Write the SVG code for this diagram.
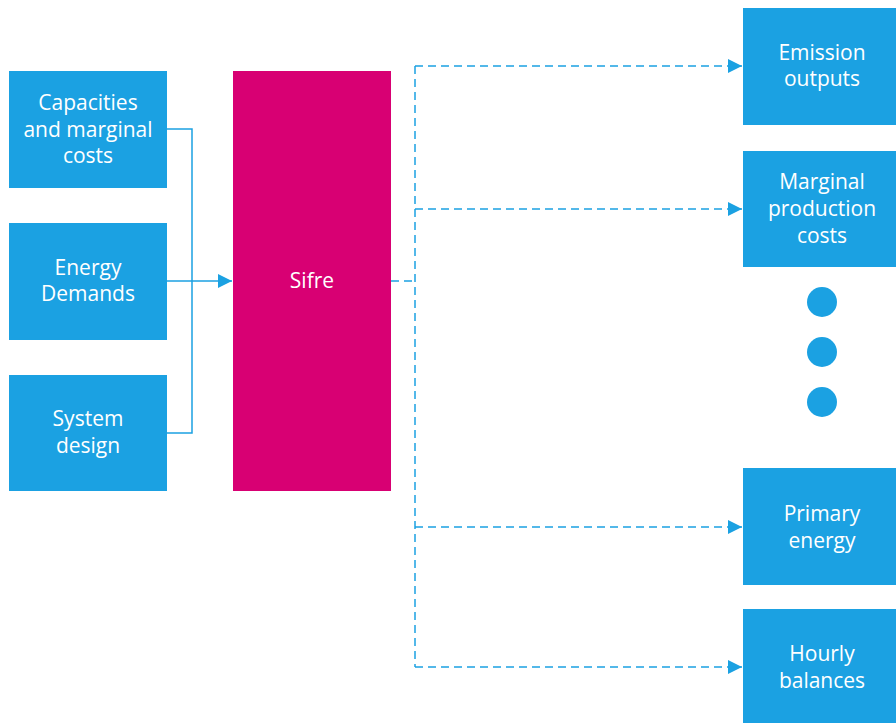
<svg xmlns="http://www.w3.org/2000/svg" width="896" height="723" viewBox="0 0 896 723">
<defs>
<style>
.box{fill:#1ba1e2}
.sifre{fill:#d80073}
.t{font-family:"Open Sans","Noto Sans","Liberation Sans",sans-serif;font-size:21px;fill:#ffffff;text-anchor:middle}
.c{fill:none;stroke:#1ba1e2;stroke-width:1.5}
.d{fill:none;stroke:#1ba1e2;stroke-width:1.5;stroke-dasharray:8 5}
</style>
<marker id="ah" viewBox="0 0 10 10" refX="10" refY="5" markerWidth="14" markerHeight="14" markerUnits="userSpaceOnUse" orient="auto">
<path d="M0,0 L10,5 L0,10 Z" fill="#1ba1e2"/>
</marker>
</defs>
<rect width="896" height="723" fill="#ffffff"/>
<g id="connectors">
<polyline class="c" points="167,129 192,129 192,433 167,433"/>
<line class="c" x1="167" y1="281" x2="232" y2="281" marker-end="url(#ah)"/>
<line class="d" x1="391" y1="281" x2="415" y2="281"/>
<line class="d" x1="415" y1="66" x2="415" y2="667"/>
<line class="d" x1="415" y1="66" x2="742" y2="66" marker-end="url(#ah)"/>
<line class="d" x1="415" y1="209" x2="742" y2="209" marker-end="url(#ah)"/>
<line class="d" x1="415" y1="527" x2="742" y2="527" marker-end="url(#ah)"/>
<line class="d" x1="415" y1="667" x2="742" y2="667" marker-end="url(#ah)"/>
</g>
<g id="capacities"><rect class="box" x="9" y="71" width="158" height="117"/>
<text class="t" x="88" y="110">Capacities</text><text class="t" x="88" y="137">and marginal</text><text class="t" x="88" y="163">costs</text></g>
<g id="demands"><rect class="box" x="9" y="223" width="158" height="117"/>
<text class="t" x="88" y="275">Energy</text><text class="t" x="88" y="301">Demands</text></g>
<g id="design"><rect class="box" x="9" y="375" width="158" height="116"/>
<text class="t" x="88" y="426">System</text><text class="t" x="88" y="453">design</text></g>
<g id="sifre"><rect class="sifre" x="233" y="71" width="158" height="420"/>
<text class="t" x="312" y="288">Sifre</text></g>
<g id="emission"><rect class="box" x="743" y="8" width="153" height="117"/>
<text class="t" x="822" y="60">Emission</text><text class="t" x="822" y="86">outputs</text></g>
<g id="marginal"><rect class="box" x="743" y="151" width="153" height="116"/>
<text class="t" x="822" y="189">Marginal</text><text class="t" x="822" y="216">production</text><text class="t" x="822" y="243">costs</text></g>
<g id="dots">
<circle class="box" cx="822" cy="302" r="15"/>
<circle class="box" cx="822" cy="352" r="15"/>
<circle class="box" cx="822" cy="402" r="15"/>
</g>
<g id="primary"><rect class="box" x="743" y="468" width="153" height="117"/>
<text class="t" x="822" y="521">Primary</text><text class="t" x="822" y="548">energy</text></g>
<g id="hourly"><rect class="box" x="743" y="609" width="153" height="114"/>
<text class="t" x="822" y="661">Hourly</text><text class="t" x="822" y="688">balances</text></g>
</svg>
